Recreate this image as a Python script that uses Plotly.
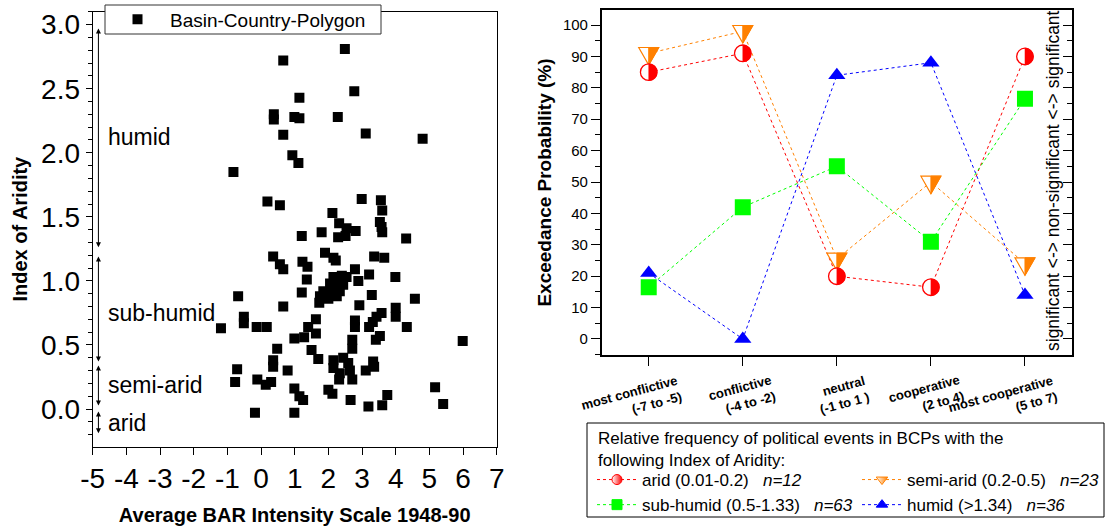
import plotly.graph_objects as go

# ---------------- Left panel data ----------------
bar_intensity = [2.49, 0.66, 2.77, 1.14, 0.38, 0.38, 0.99, 1.14, 2.28, 0.66,
                 3.11, 4.80, 0.93, 1.11, -0.82, 0.19, 0.56, 2.99, 3.56, 3.60,
                 2.12, 3.53, 3.58, 3.60, 2.32, 2.54, 2.81, 2.29, 2.51, 1.80,
                 1.21, 4.31, 0.36, 0.56, 0.66, 1.90, 2.15, 2.22, 3.36, 3.66,
                 1.23, 1.38, 2.79, 3.21, 3.99, 1.36, 2.89, 2.15, 2.40, 2.54,
                 2.05, 2.29, 2.44, 1.85, 2.10, 2.34, 1.75, 2.00, 2.25, 1.73,
                 3.29, 1.21, -0.68, 4.57, 0.66, 2.92, 4.00, 4.00, 3.58, 3.43,
                 3.32, 3.21, 2.79, 2.79, 4.33, 1.63, 1.40, 1.63, 1.28, -1.19,
                 -0.51, -0.51, -0.13, 0.17, 0.99, 5.99, 3.53, 3.41, 2.71, 2.71,
                 1.50, 0.48, 1.70, 0.36, 0.36, 0.79, 2.15, 2.15, 2.44, 2.59,
                 2.64, 2.34, 3.33, 3.36, 3.11, -0.71, -0.77, -0.11, 0.14, 0.30,
                 2.32, 2.71, 0.99, 1.14, 1.25, 2.00, 2.12, 5.17, 2.66, 3.75,
                 3.60, 3.19, 5.41, -0.18, 0.99]
aridity_index = [2.81, 2.72, 2.48, 2.43, 2.30, 2.26, 2.28, 2.27, 2.28, 2.14,
                 2.15, 2.11, 1.98, 1.92, 1.85, 1.62, 1.59, 1.64, 1.63, 1.55,
                 1.53, 1.46, 1.42, 1.38, 1.45, 1.41, 1.39, 1.34, 1.35, 1.38,
                 1.35, 1.33, 1.19, 1.13, 1.09, 1.22, 1.18, 1.16, 1.19, 1.18,
                 1.15, 1.11, 1.09, 1.05, 1.03, 1.01, 1.00, 1.03, 1.04, 1.03,
                 0.98, 0.98, 0.97, 0.92, 0.93, 0.92, 0.88, 0.86, 0.88, 0.83,
                 0.89, 0.91, 0.88, 0.86, 0.80, 0.81, 0.79, 0.72, 0.75, 0.72,
                 0.68, 0.64, 0.69, 0.64, 0.64, 0.70, 0.64, 0.59, 0.56, 0.63,
                 0.72, 0.67, 0.64, 0.64, 0.55, 0.53, 0.57, 0.54, 0.54, 0.47,
                 0.46, 0.47, 0.39, 0.38, 0.33, 0.30, 0.38, 0.32, 0.40, 0.36,
                 0.30, 0.28, 0.37, 0.33, 0.30, 0.31, 0.21, 0.23, 0.19, 0.21,
                 0.23, 0.23, 0.16, 0.10, 0.07, 0.15, 0.12, 0.17, 0.07, 0.11,
                 0.03, 0.02, 0.04, -0.03, -0.03]

x_ticks = [-5, -4, -3, -2, -1, 0, 1, 2, 3, 4, 5, 6, 7]
x_tick_labels = ["-5", "-4", "-3", "-2", "-1", "0", "1", "2", "3", "4", "5", "6", "7"]

zone_names = ["humid", "sub-humid", "semi-arid", "arid"]
zone_low = [1.25, 0.36, 0.015, -0.20]
zone_high = [2.97, 1.19, 0.34, -0.02]
zone_label_y = [2.12, 0.75, 0.19, -0.11]
zone_arrow_x = -4.83
zone_label_x = -4.6

# ---------------- Right panel data ----------------
categories = ["most conflictive<br>(-7 to -5)", "conflictive<br>(-4 to -2)",
              "neutral<br>(-1 to 1 )", "cooperative<br>(2 to 4)",
              "most cooperative<br>(5 to 7)"]
arid = [85, 91, 20, 16.5, 90]
semi_arid = [91, 98, 25.5, 50, 24]
sub_humid = [16.5, 42, 55, 31, 76.5]
humid = [21, 0, 84, 88, 14]

series_names = ["arid (0.01-0.2)\u00a0\u00a0 <i>n=12</i>",
                "semi-arid (0.2-0.5)\u00a0\u00a0 <i>n=23</i>",
                "sub-humid (0.5-1.33)\u00a0\u00a0 <i>n=63</i>",
                "humid (&gt;1.34)\u00a0\u00a0 <i>n=36</i>"]
legend_title = ("Relative frequency of political events in BCPs with the<br>"
                "following Index of Aridity:")

RED = "#FF0000"
ORANGE = "#FF8000"
GREEN = "#00FF00"
BLUE = "#0000FF"
FONT = "Arial, Liberation Sans, sans-serif"

xpos = list(range(len(categories)))

fig = go.Figure()

# left scatter
fig.add_trace(go.Scatter(
    x=bar_intensity, y=aridity_index, mode="markers", xaxis="x", yaxis="y",
    name="Basin-Country-Polygon", legend="legend2",
    marker=dict(symbol="square", size=10, color="black", line=dict(width=0))))

# right panel traces
fig.add_trace(go.Scatter(x=xpos, y=semi_arid, mode="lines+markers", xaxis="x2", yaxis="y2",
                         showlegend=False,
                         line=dict(color=ORANGE, width=1, dash="dot"),
                         marker=dict(symbol="triangle-down", size=10, color="white",
                                     line=dict(color=ORANGE, width=1))))
fig.add_trace(go.Scatter(x=xpos, y=arid, mode="lines+markers", xaxis="x2", yaxis="y2",
                         showlegend=False,
                         line=dict(color=RED, width=1, dash="dot"),
                         marker=dict(symbol="circle", size=10, color="white",
                                     line=dict(color=RED, width=1))))
fig.add_trace(go.Scatter(x=xpos, y=humid, mode="lines+markers", xaxis="x2", yaxis="y2",
                         showlegend=False,
                         line=dict(color=BLUE, width=1, dash="dot"),
                         marker=dict(symbol="triangle-up", size=15, color=BLUE)))
fig.add_trace(go.Scatter(x=xpos, y=sub_humid, mode="lines+markers", xaxis="x2", yaxis="y2",
                         showlegend=False,
                         line=dict(color=GREEN, width=1, dash="dot"),
                         marker=dict(symbol="square", size=16, color=GREEN)))

# legend-only entries (two columns -> two legends)
legend_styles = [
    dict(color=RED, symbol="circle", fill="white", gradient=dict(type="horizontal", color=RED), leg="legend"),
    dict(color=ORANGE, symbol="triangle-down", fill="white", gradient=dict(type="horizontal", color=ORANGE), leg="legend3"),
    dict(color=GREEN, symbol="square", fill=GREEN, gradient=None, leg="legend"),
    dict(color=BLUE, symbol="triangle-up", fill=BLUE, gradient=None, leg="legend3"),
]
for name, st in zip(series_names, legend_styles):
    mk = dict(symbol=st["symbol"], size=10, color=st["fill"], line=dict(color=st["color"], width=1))
    if st["gradient"]:
        mk["gradient"] = st["gradient"]
    fig.add_trace(go.Scatter(x=[None], y=[None], mode="lines+markers", xaxis="x2", yaxis="y2",
                             name=name, legend=st["leg"],
                             line=dict(color=st["color"], width=1, dash="dot"), marker=mk))

# dummy trace to activate the mirrored right axis
fig.add_trace(go.Scatter(x=[None], y=[None], xaxis="x2", yaxis="y3", showlegend=False))

shapes = []
# legend frame of the left panel (covers the top axis line like the original)
shapes.append(dict(type="rect", xref="paper", yref="paper",
                   x0=105 / 1105, x1=381 / 1105, y0=1 - 34 / 531, y1=1 - 5 / 531,
                   line=dict(color="#333333", width=1), fillcolor="white", layer="above"))

# half-filled glyphs (pixel-sized shapes anchored at data values)
TW, TH = 10, 17.5
for i, v in enumerate(semi_arid):
    top, bot = TH / 3, -2 * TH / 3
    common = dict(type="path", xref="x2", yref="y2", xsizemode="pixel", ysizemode="pixel",
                  xanchor=i, yanchor=v, layer="above")
    shapes.append(dict(common, path=f"M{-TW},{top} L{TW},{top} L0,{bot} Z",
                       fillcolor="white", line=dict(color=ORANGE, width=1.2)))
    shapes.append(dict(common, path=f"M0,{top} L{TW},{top} L0,{bot} Z",
                       fillcolor=ORANGE, line=dict(color=ORANGE, width=1)))
R = 8.3
k = 0.5523 * R
for i, v in enumerate(arid):
    common = dict(xref="x2", yref="y2", xsizemode="pixel", ysizemode="pixel",
                  xanchor=i, yanchor=v, layer="above")
    shapes.append(dict(common, type="circle", x0=-R, x1=R, y0=-R, y1=R,
                       fillcolor="white", line=dict(color=RED, width=1.3)))
    shapes.append(dict(common, type="path",
                       path=f"M0,{R} C{k},{R} {R},{k} {R},0 C{R},{-k} {k},{-R} 0,{-R} Z",
                       fillcolor=RED, line=dict(color=RED, width=0.5)))

# legend frame (bottom right)
shapes.append(dict(type="rect", xref="paper", yref="paper",
                   x0=587 / 1105, x1=1104 / 1105, y0=1 - 517 / 531, y1=1 - 423 / 531,
                   line=dict(color="black", width=1), fillcolor="rgba(0,0,0,0)", layer="above"))

annotations = []
for name, lo, hi, ly in zip(zone_names, zone_low, zone_high, zone_label_y):
    annotations.append(dict(x=zone_arrow_x, y=hi, ax=zone_arrow_x, ay=lo, xref="x", yref="y",
                            axref="x", ayref="y", text="", showarrow=True,
                            arrowside="end+start", arrowhead=2, startarrowhead=2,
                            arrowsize=1, startarrowsize=1, arrowwidth=1, arrowcolor="black",
                            standoff=0, startstandoff=0))
    annotations.append(dict(x=zone_label_x, y=ly, xref="x", yref="y", text=name,
                            showarrow=False, xanchor="left", yanchor="middle",
                            font=dict(size=23, color="black", family=FONT)))

# rotated category labels of the right panel
for i, lab in zip(xpos, categories):
    annotations.append(dict(x=i, xref="x2", y=0, yref="y2 domain", text=lab,
                            textangle=-15, showarrow=False, align="right",
                            xanchor="right", yanchor="top", xshift=37, yshift=-15,
                            font=dict(size=13, color="black", family=FONT, weight="bold")))

annotations.append(dict(x=1053 / 1105, y=1 - 181 / 531, xref="paper", yref="paper",
                        text="significant &lt;-&gt; non-significant &lt;-&gt; significant",
                        textangle=-90, showarrow=False, xanchor="center", yanchor="middle",
                        font=dict(size=17.5, color="black", family=FONT)))
annotations.append(dict(x=596 / 1105, y=1 - 427 / 531, xref="paper", yref="paper",
                        text=legend_title, align="left", showarrow=False,
                        xanchor="left", yanchor="top",
                        font=dict(size=17, color="black", family=FONT)))

axis_common = dict(showline=True, linecolor="black", mirror=True, showgrid=False,
                   zeroline=False, ticks="outside", tickcolor="black")
leg_common = dict(xanchor="left", yanchor="top", orientation="v", bgcolor="rgba(0,0,0,0)",
                  borderwidth=0, font=dict(size=17), tracegroupgap=0, itemwidth=40)

fig.update_layout(
    width=1105, height=531, margin=dict(l=0, r=0, t=0, b=0, autoexpand=False),
    paper_bgcolor="white", plot_bgcolor="white",
    font=dict(family=FONT, color="black"),
    xaxis=dict(axis_common, domain=[92.7 / 1105, 496.7 / 1105], anchor="y",
               range=[-5, 7], tickvals=x_ticks, ticktext=x_tick_labels, ticklen=7,
               linewidth=1.2, tickfont=dict(size=28), tickangle=0,
               title=dict(text="Average BAR Intensity Scale 1948-90",
                          font=dict(size=20, weight="bold"), standoff=14)),
    yaxis=dict(axis_common, domain=[1 - 446.7 / 531, 1 - 11.7 / 531], anchor="x",
               range=[-0.294, 3.101], dtick=0.5, tick0=0, tickformat=".1f", ticklen=6,
               linewidth=1.2, tickfont=dict(size=28),
               minor=dict(dtick=0.1, tick0=0, ticks="outside", ticklen=4, tickcolor="black"),
               title=dict(text="Index of Aridity", font=dict(size=20, weight="bold"),
                          standoff=8)),
    xaxis2=dict(axis_common, domain=[601.7 / 1105, 1072 / 1105], anchor="y2",
                range=[-0.5, 4.5], tickvals=xpos, showticklabels=False, ticklen=9,
                linewidth=1.5),
    yaxis2=dict(axis_common, domain=[1 - 355 / 531, 1 - 10 / 531], anchor="x2",
                range=[-5.1, 104.8], dtick=10, tick0=0, ticklen=9, linewidth=1.5,
                tickfont=dict(size=15),
                minor=dict(dtick=5, tick0=0, ticks="outside", ticklen=5, tickcolor="black"),
                title=dict(text="Exceedance Probability (%)", font=dict(size=19, weight="bold"),
                           standoff=6)),
    yaxis3=dict(overlaying="y2", side="right", anchor="x2", range=[-5.1, 104.8],
                dtick=10, tick0=0, ticks="inside", ticklen=9, tickcolor="black",
                showticklabels=False, showgrid=False, zeroline=False, showline=False,
                minor=dict(dtick=5, tick0=0, ticks="inside", ticklen=5, tickcolor="black")),
    legend=dict(leg_common, x=592 / 1105, y=1 - 462 / 531),
    legend3=dict(leg_common, x=857 / 1105, y=1 - 462 / 531),
    legend2=dict(x=105 / 1105, y=1 - 19.5 / 531, xanchor="left", yanchor="middle",
                 bgcolor="rgba(0,0,0,0)", borderwidth=0,
                 font=dict(size=19), itemwidth=55),
    shapes=shapes,
    annotations=annotations,
)

fig.write_html("out.html")
